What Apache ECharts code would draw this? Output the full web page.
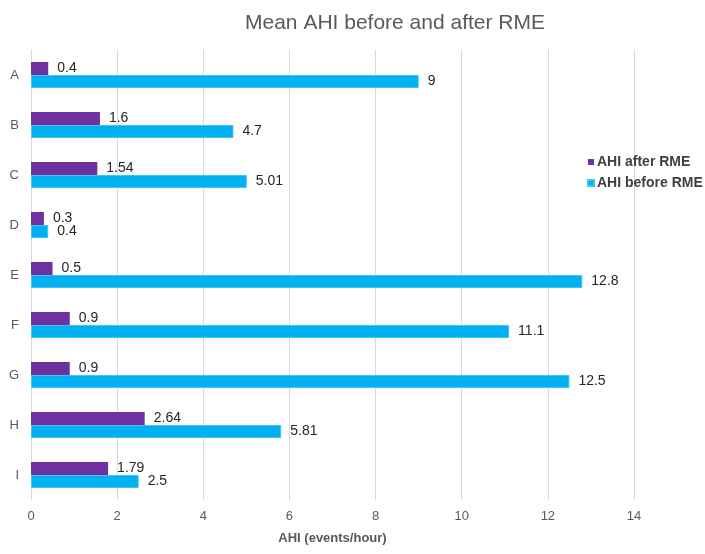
<!DOCTYPE html>
<html>
<head>
<meta charset="utf-8">
<script src="https://cdn.jsdelivr.net/npm/echarts@6/dist/echarts.min.js"></script>
<style>
html,body{margin:0;padding:0;background:#fff;}
#c{width:705px;height:554px;}
</style>
</head>
<body>
<div id="c"></div>
<script>
var categories = ['A','B','C','D','E','F','G','H','I'];
var ahiAfter = [0.4, 1.6, 1.54, 0.3, 0.5, 0.9, 0.9, 2.64, 1.79];
var ahiBefore = [9, 4.7, 5.01, 0.4, 12.8, 11.1, 12.5, 5.81, 2.5];
var seriesNames = ['AHI after RME', 'AHI before RME'];
var xTicks = [0, 2, 4, 6, 8, 10, 12, 14];

var chart = echarts.init(document.getElementById('c'));
var font = 'Liberation Sans, Arial, sans-serif';
chart.setOption({
  animation: false,
  backgroundColor: '#ffffff',
  title: {
    text: 'Mean AHI before and after RME',
    left: 390, top: 8, textAlign: 'center',
    textStyle: {fontFamily: font, fontSize: 21, fontWeight: 'normal', color: '#595959'}
  },
  legend: {
    orient: 'vertical', left: 582, top: 150, itemWidth: 6, itemHeight: 6, itemGap: 7,
    icon: 'rect',
    textStyle: {fontFamily: font, fontSize: 14, fontWeight: 'bold', color: '#404040', padding: [0,0,0,-2]},
    data: seriesNames
  },
  grid: {left: 31, right: 71, top: 50, bottom: 54, containLabel: false},
  xAxis: {
    type: 'value', min: xTicks[0], max: xTicks[xTicks.length-1], interval: 2,
    name: 'AHI (events/hour)', nameLocation: 'middle', nameGap: 32,
    nameTextStyle: {fontFamily: font, fontSize: 13, fontWeight: 'bold', color: '#595959'},
    axisLine: {show: false}, axisTick: {show: false},
    axisLabel: {fontFamily: font, fontSize: 13, color: '#595959', margin: 10},
    splitLine: {show: true, lineStyle: {color: '#d9d9d9', width: 1}}
  },
  yAxis: {
    type: 'category', data: categories, inverse: true,
    axisLine: {show: true, lineStyle: {color: '#d9d9d9'}}, axisTick: {show: false},
    axisLabel: {fontFamily: font, fontSize: 13, color: '#595959', margin: 12}
  },
  series: [
    {
      name: seriesNames[0], type: 'bar', data: ahiAfter, barWidth: 13, barGap: '0%',
      itemStyle: {color: '#7030A0'},
      label: {show: true, position: 'right', distance: 9, fontFamily: font, fontSize: 14, color: '#262626'}
    },
    {
      name: seriesNames[1], type: 'bar', data: ahiBefore, barWidth: 13, barGap: '0%',
      itemStyle: {color: '#00B0F0', borderColor: '#3fc4f4', borderWidth: 1},
      label: {show: true, position: 'right', distance: 9, fontFamily: font, fontSize: 14, color: '#262626'}
    }
  ]
});
</script>
</body>
</html>
